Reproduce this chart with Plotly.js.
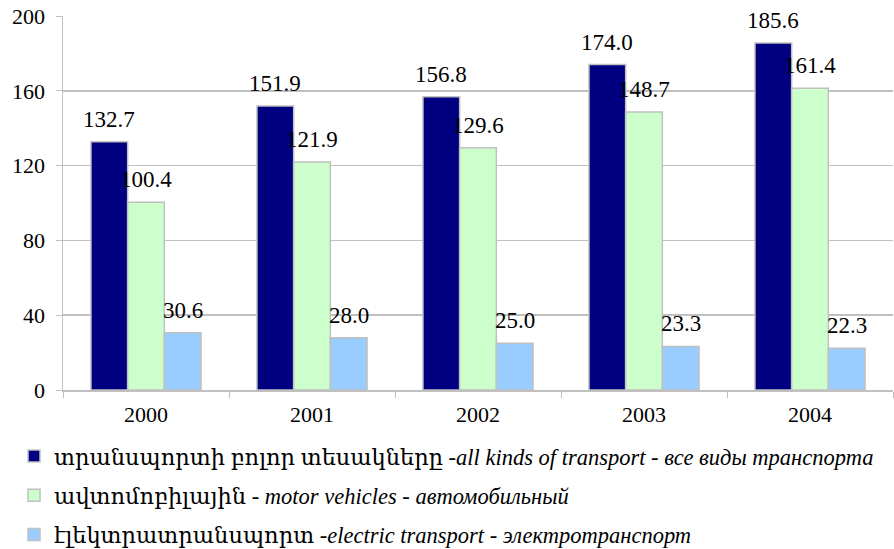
<!DOCTYPE html>
<html>
<head>
<meta charset="utf-8">
<script src="https://cdn.plot.ly/plotly-3.0.1.min.js"></script>
<style>html,body{margin:0;padding:0;background:#fff;}#chart{width:894px;height:549px;}</style>
</head>
<body>
<div id="chart"></div>
<script>
const years = ['2000', '2001', '2002', '2003', '2004'];
const allTransport = [132.7, 151.9, 156.8, 174.0, 185.6];
const motorVehicles = [100.4, 121.9, 129.6, 148.7, 161.4];
const electricTransport = [30.6, 28.0, 25.0, 23.3, 22.3];
const seriesNames = [
  'տրանսպորտի բոլոր տեսակները -<i>all kinds of transport</i> - <i>все виды транспорта</i>',
  'ավտոմոբիլային - <i>motor vehicles</i> - <i>автомобильный</i>',
  'էլեկտրատրանսպորտ -<i>electric transport</i> - <i>электротранспорт</i>'
];
const seriesColors = ['#000080', '#CCFFCC', '#99CCFF'];
const seriesValues = [allTransport, motorVehicles, electricTransport];

const serif = '"Liberation Serif", "Times New Roman", "DejaVu Serif", serif';
const legendSerif = '"Liberation Serif", "Times New Roman", "DejaVu Serif", serif';

const W = 894, H = 549;
const margin = {l: 63, r: 1, t: 16, b: 159, autoexpand: false};
const bargap = 0.337;
const nSeries = seriesValues.length;

const traces = seriesValues.map((vals, i) => ({
  type: 'bar',
  x: years,
  y: vals,
  name: seriesNames[i],
  legendgroup: 'g' + i,
  marker: {color: seriesColors[i], line: {color: '#C0C0C0', width: 1.5}},
  cliponaxis: false,
  hoverinfo: 'x+y'
}));

// value labels, placed at each bar's category (index) and value; offset within group from bar width
const catPx = (W - margin.l - margin.r) / years.length;
const barPx = catPx * (1 - bargap) / nSeries;
const annotations = [];
seriesValues.forEach((vals, i) => {
  vals.forEach((v, j) => {
    annotations.push({
      x: j, y: v, xref: 'x', yref: 'y',
      text: v.toFixed(1),
      showarrow: false,
      xanchor: 'center', yanchor: 'bottom',
      xshift: (i - (nSeries - 1) / 2) * barPx,
      yshift: 8,
      font: {family: serif, size: 23, color: '#000'}
    });
  });
});

const layout = {
  width: W, height: H,
  margin: margin,
  paper_bgcolor: '#fff', plot_bgcolor: '#fff',
  barmode: 'group',
  bargap: bargap,
  bargroupgap: 0,
  font: {family: serif, size: 22, color: '#000'},
  xaxis: {
    type: 'category',
    categoryarray: years,
    range: [-0.5, years.length - 0.5],
    showline: true, linecolor: '#C0C0C0', linewidth: 1.5,
    ticks: 'outside', tickson: 'boundaries', ticklen: 6, tickcolor: '#C0C0C0',
    showgrid: false,
    ticklabelstandoff: 4,
    automargin: false,
    tickfont: {family: serif, size: 22, color: '#000'}
  },
  yaxis: {
    range: [0, 200], tickvals: [0, 40, 80, 120, 160, 200],
    showline: true, linecolor: '#C0C0C0', linewidth: 1.5,
    ticks: 'outside', ticklen: 6, tickcolor: '#C0C0C0',
    gridcolor: '#C0C0C0', gridwidth: 1.5,
    zeroline: false,
    ticklabelstandoff: 6,
    automargin: false,
    tickfont: {family: serif, size: 22, color: '#000'}
  },
  annotations: annotations,
  showlegend: true,
  legend: {
    orientation: 'v',
    x: -0.059, xanchor: 'left',
    y: -0.12, yanchor: 'top',
    traceorder: 'grouped',
    tracegroupgap: 7,
    font: {family: legendSerif, size: 22.5, color: '#000'},
    bgcolor: 'rgba(0,0,0,0)'
  }
};

Plotly.newPlot('chart', traces, layout, {displayModeBar: false, staticPlot: true});
</script>
</body>
</html>
